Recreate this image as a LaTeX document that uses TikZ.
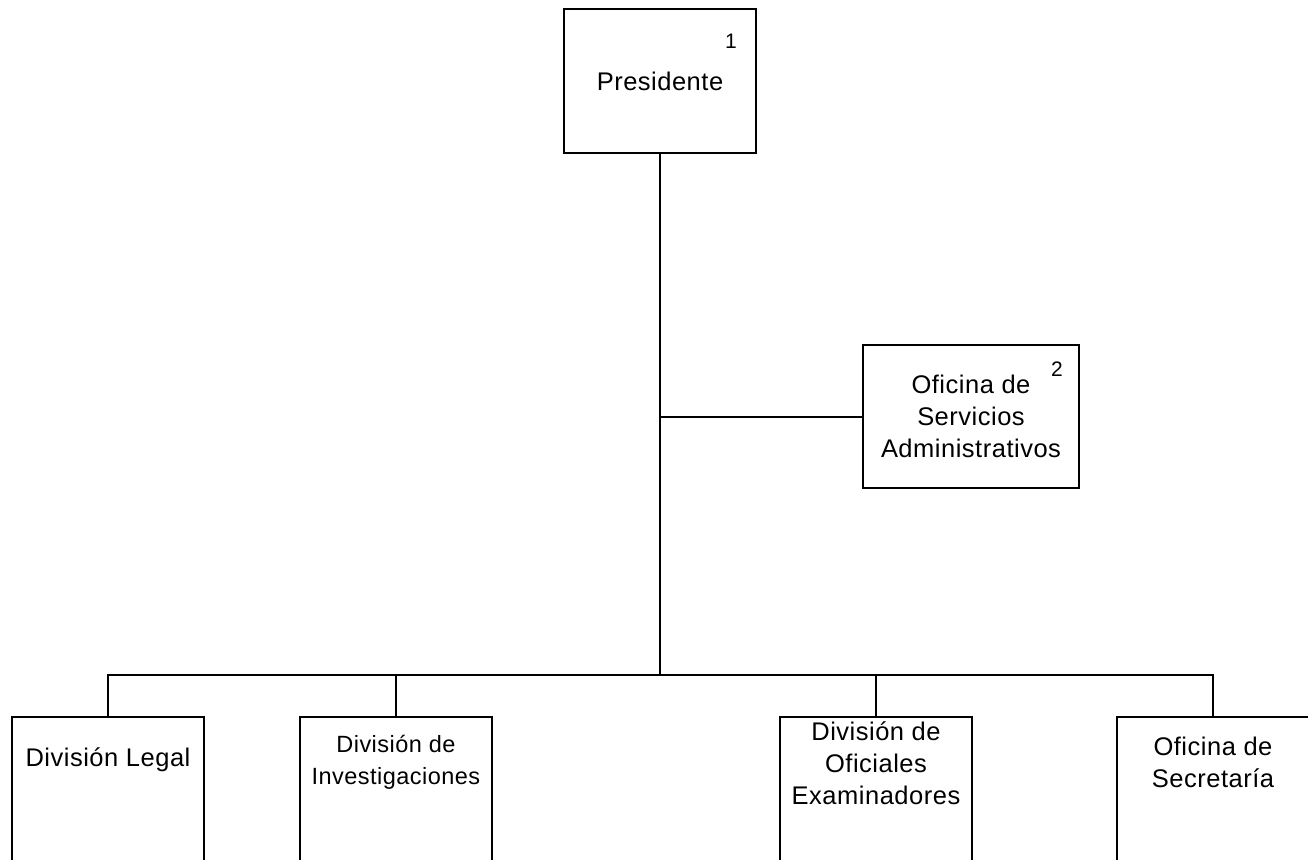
\documentclass[tikz,border=0pt]{standalone}
\usepackage{fontspec}
\setmainfont{Liberation Sans}[LetterSpace=2]
\begin{document}
\begin{tikzpicture}[x=1pt,y=-1pt,
  box/.style={draw,line width=2pt,inner sep=0pt,align=center,font=\fontsize{25.5}{32}\selectfont},
  txt/.style={inner sep=0pt,align=center,font=\fontsize{25.5}{32}\selectfont},
  num/.style={inner sep=0pt,font=\fontsize{21}{24}\selectfont},
  conn/.style={line width=2pt}]
\useasboundingbox (0,0) rectangle (1308,859);
\clip (0,0) rectangle (1308,859);
\node[box,minimum width=192pt,minimum height=144pt] (pres) at (660,81) {Presidente};
\node[num] (n1) at (731,41) {1};
\node[box,minimum width=216pt,minimum height=143pt] (ofi) at (971,416.5) {Oficina de\\Servicios\\Administrativos};
\node[num] (n2) at (1057,369) {2};
\node[box,minimum width=192pt,minimum height=183pt] (legal) at (108,808.5) {};
\node[box,minimum width=192pt,minimum height=183pt] (inv) at (396,808.5) {};
\node[box,minimum width=192pt,minimum height=183pt] (exam) at (876,808.5) {};
\node[box,minimum width=192pt,minimum height=183pt] (sec) at (1213,808.5) {};
\node[txt] (tlegal) at (108,760) {División Legal};
\node[txt,font=\fontsize{23.5}{32}\selectfont] (tinv) at (396,762) {División de\\Investigaciones};
\node[txt] (texam) at (876,763) {División de\\Oficiales\\Examinadores};
\node[txt] (tsec) at (1213,762) {Oficina de\\Secretaría};
\coordinate (bar) at (660,675);
\draw[conn] (pres.south) -- (bar);
\draw[conn] (ofi.west) -- (ofi.west -| pres.south);
\draw[conn] (legal.north) |- (bar) -| (sec.north);
\draw[conn] (inv.north) -- (inv.north |- bar);
\draw[conn] (exam.north) -- (exam.north |- bar);
\end{tikzpicture}
\end{document}
